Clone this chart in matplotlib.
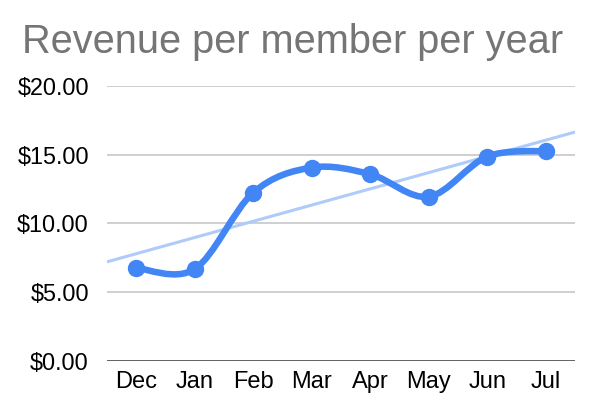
import matplotlib
matplotlib.use("Agg")
import matplotlib.pyplot as plt
import numpy as np
from matplotlib.path import Path
from matplotlib.patches import PathPatch

# data
months  = ["Dec", "Jan", "Feb", "Mar", "Apr", "May", "Jun", "Jul"]
revenue = [6.76, 6.68, 12.23, 14.05, 13.57, 11.94, 14.85, 15.26]
y_ticks = [0, 5, 10, 15, 20]

BLUE  = "#4285f4"
TREND = "#aecbfa"
GRID  = "#cccccc"

plt.rcParams["font.family"] = ["Liberation Sans", "DejaVu Sans"]

fig = plt.figure(figsize=(5.96, 4.18), dpi=100)
ax = fig.add_axes([0.1795, 0.1364, 0.7853, 0.6586])

x = np.arange(len(months))
y = np.array(revenue)

# smooth curve as cubic bezier path (catmull-rom control points)
verts = [(x[0], y[0])]
codes = [Path.MOVETO]
n = len(x)
for i in range(n - 1):
    p0 = (x[max(i - 1, 0)], y[max(i - 1, 0)])
    p1 = (x[i], y[i])
    p2 = (x[i + 1], y[i + 1])
    p3 = (x[min(i + 2, n - 1)], y[min(i + 2, n - 1)])
    c1 = (p1[0] + (p2[0] - p0[0]) / 6, p1[1] + (p2[1] - p0[1]) / 6)
    c2 = (p2[0] - (p3[0] - p1[0]) / 6, p2[1] - (p3[1] - p1[1]) / 6)
    verts += [c1, c2, p2]
    codes += [Path.CURVE4] * 3
ax.add_patch(PathPatch(Path(verts, codes), facecolor="none", edgecolor=BLUE,
                       linewidth=4.7, capstyle="round", zorder=4))
ax.plot(x, y, "o", color=BLUE, markersize=11.5, zorder=5)

# linear trendline across the full width
slope, icpt = np.polyfit(x, y, 1)
xt = np.array([-0.5, n - 0.5])
ax.plot(xt, slope * xt + icpt, color=TREND, linewidth=2.2, zorder=3,
        solid_capstyle="butt")

ax.set_xlim(-0.5, n - 0.5)
ax.set_ylim(0, 20)
ax.set_xticks(x)
ax.set_xticklabels(months, fontsize=17)
ax.set_yticks(y_ticks)
ax.set_yticklabels([f"${v:.2f}" for v in y_ticks], fontsize=16.8)
ax.tick_params(length=0, pad=13, axis="y")
ax.tick_params(length=0, pad=7, axis="x")
for s in ax.spines.values():
    s.set_visible(False)
for v in y_ticks[1:]:
    ax.axhline(v, color=GRID, linewidth=1.3, zorder=1)
ax.axhline(0, color="#333333", linewidth=1.8, zorder=2)

fig.text(22 / 596, 1 - 53 / 418, "Revenue per member per year",
         fontsize=28.6, color="#757575", ha="left", va="baseline")

fig.savefig("out.png", dpi=100)
